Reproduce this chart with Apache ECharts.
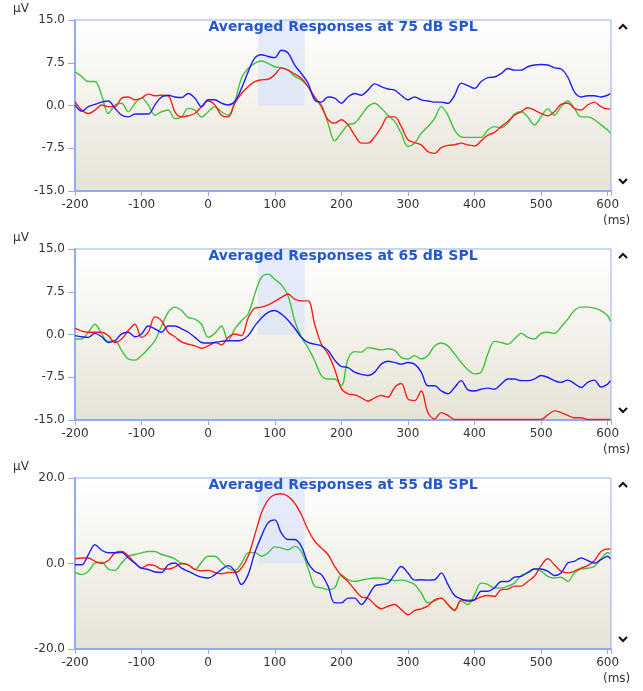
<!DOCTYPE html>
<html>
<head>
<meta charset="utf-8">
<title>Averaged Responses</title>
<script src="https://cdn.jsdelivr.net/npm/echarts@6/dist/echarts.min.js"></script>
<style>
  html, body { margin: 0; padding: 0; background: #ffffff; }
  #chart { width: 643px; height: 691px; }
</style>
</head>
<body>
<div id="chart"></div>
<script>
// Sample times (ms) shared by every trace
const timeMs = [
  -200, -190, -180, -170, -160, -150, -140, -130, -120, -110,
  -100, -90, -80, -70, -60, -50, -40, -30, -20, -10,
  0, 10, 20, 30, 40, 50, 60, 70, 80, 90,
  100, 110, 120, 130, 140, 150, 160, 170, 180, 190,
  200, 210, 220, 230, 240, 250, 260, 270, 280, 290,
  300, 310, 320, 330, 340, 350, 360, 370, 380, 390,
  400, 410, 420, 430, 440, 450, 460, 470, 480, 490,
  500, 510, 520, 530, 540, 550, 560, 570, 580, 590,
  600, 604
];

// Stimulus levels, one panel each
const levelsDb = ['75', '65', '55'];
const yLimits = [[-15, 15], [-15, 15], [-20, 20]];
const yStep = [7.5, 7.5, 20];
const xTickValues = [-200, -100, 0, 100, 200, 300, 400, 500, 600];
const responseWindowMs = [75, 145];

// 75 dB SPL (µV)
const blue75 = [
  0.1, -1.0, -0.2, 0.2, 0.6, 0.8, -0.5, -1.7, -2.0, -1.5,
  -1.5, -1.5, 0.1, 1.5, 1.8, 1.5, 1.4, 2.1, 1.3, -0.2,
  1.0, 1.0, 0.4, 0.1, 0.7, 3.0, 5.9, 8.3, 8.9, 8.6,
  8.4, 9.7, 9.2, 7.1, 5.6, 3.9, 1.0, 0.6, 1.5, 1.3,
  0.4, 1.5, 2.1, 1.8, 2.7, 3.8, 3.3, 2.9, 2.7, 1.8,
  1.0, 1.5, 1.0, 0.8, 0.6, 0.6, 0.4, 1.8, 3.9, 3.5,
  3.0, 4.2, 4.9, 5.0, 5.6, 6.5, 6.2, 6.2, 6.8, 7.1,
  7.2, 7.1, 6.6, 6.4, 5.0, 2.4, 1.5, 1.7, 1.7, 1.5,
  1.8, 2.1
];
const red75 = [
  0.7, -0.8, -1.4, -0.8, 0.1, -0.2, -0.2, 1.3, 1.5, 1.0,
  1.3, 2.0, 1.7, 1.8, 1.7, -1.1, -2.0, -1.8, -1.4, -0.2,
  0.8, 0.1, -1.7, -2.0, 0.4, 2.1, 3.3, 4.2, 4.5, 4.6,
  5.4, 6.6, 6.2, 5.5, 4.8, 3.3, 1.5, -0.2, -2.5, -3.1,
  -2.5, -3.4, -5.2, -6.6, -6.6, -5.5, -3.8, -2.0, -2.0, -3.7,
  -6.0, -6.5, -6.9, -8.1, -8.4, -7.4, -7.0, -6.9, -6.6, -6.9,
  -7.1, -6.2, -5.2, -4.7, -3.7, -2.8, -1.7, -1.1, -0.4, -0.8,
  -1.4, -1.8, -1.1, 0.2, 0.4, -0.5, -0.8, 0.1, 0.6, -0.2,
  -0.6, -0.6
];
const green75 = [
  5.9, 5.1, 4.2, 4.2, 1.8, -1.4, 0.1, 0.4, -1.1, 0.4,
  1.3, 0.1, -1.7, -1.1, -0.8, -2.3, -2.0, -0.5, -0.8, -2.0,
  -1.1, -0.2, -1.1, -1.7, 0.7, 4.8, 6.5, 7.4, 7.8, 7.4,
  6.8, 6.6, 6.2, 5.1, 4.5, 3.3, 1.3, 0.1, -3.1, -6.2,
  -4.8, -3.4, -3.1, -1.7, -0.2, 0.4, -0.5, -1.7, -2.8, -4.9,
  -7.2, -6.6, -4.9, -3.7, -2.3, -0.2, -1.7, -4.3, -5.5, -5.6,
  -5.6, -5.6, -4.3, -3.7, -3.9, -3.1, -1.5, -1.1, -2.0, -3.4,
  -2.0, -0.6, -1.7, -0.2, 0.8, -0.5, -2.0, -2.0, -2.5, -3.4,
  -4.3, -4.9
];

// 65 dB SPL (µV)
const blue65 = [
  -0.2, -0.4, -0.5, 0.2, -0.4, -1.4, -1.1, 0.1, 0.4, -0.4,
  0.1, 1.5, 1.0, 0.4, 1.5, 1.5, 1.0, 0.4, -0.5, -1.4,
  -1.5, -1.4, -1.2, -1.1, -1.1, -1.0, -0.2, 1.5, 2.9, 3.9,
  4.2, 3.6, 2.5, 1.1, -0.5, -1.4, -1.7, -2.0, -2.8, -4.5,
  -5.6, -5.8, -6.6, -7.0, -7.2, -6.6, -5.2, -4.7, -4.9, -5.2,
  -4.9, -5.2, -6.6, -9.0, -9.0, -9.9, -10.4, -9.3, -8.1, -9.7,
  -9.9, -9.6, -9.4, -9.6, -8.7, -7.8, -7.8, -8.1, -8.1, -7.8,
  -7.2, -7.5, -8.1, -8.4, -8.0, -8.6, -9.3, -8.4, -8.0, -9.2,
  -8.7, -8.1
];
const red65 = [
  1.1, 0.6, 0.4, 0.4, 0.4, -0.2, -1.4, -0.8, 0.7, 1.8,
  -0.5, 0.4, 3.1, 2.4, 0.4, -0.4, -1.3, -1.7, -2.0, -2.4,
  -2.0, -1.4, -1.8, -0.5, 0.1, -0.2, 2.9, 4.6, 4.8, 5.2,
  5.8, 6.5, 7.1, 6.2, 5.9, 5.9, 1.8, -1.7, -3.4, -6.1,
  -9.5, -10.4, -10.6, -11.1, -11.7, -11.1, -10.7, -11.0, -9.3, -8.6,
  -11.3, -11.6, -9.9, -13.7, -14.8, -13.7, -14.2, -14.9, -14.9, -14.9,
  -14.9, -14.9, -14.9, -14.9, -14.9, -14.9, -14.9, -14.9, -14.9, -14.9,
  -14.9, -14.1, -13.4, -13.7, -14.2, -14.6, -14.6, -14.9, -14.9, -14.9,
  -14.9, -14.9
];
const green65 = [
  -0.8, -0.8, 0.4, 1.8, 0.1, -1.2, -1.1, -2.8, -4.3, -4.5,
  -3.7, -2.5, -1.1, 1.5, 3.9, 4.8, 4.2, 3.0, 2.7, 1.8,
  -0.5, 0.2, 1.5, -1.1, 1.0, 2.4, 3.6, 7.1, 10.0, 10.6,
  9.7, 8.7, 6.8, 2.4, -0.5, -2.3, -4.6, -7.2, -7.8, -7.8,
  -9.0, -4.3, -3.0, -3.1, -2.3, -2.5, -2.7, -2.5, -2.8, -4.0,
  -4.3, -3.7, -4.3, -3.7, -2.0, -1.5, -2.0, -3.4, -4.9, -6.2,
  -6.9, -6.6, -3.4, -1.2, -1.4, -1.7, -0.8, 0.2, -0.5, -0.8,
  0.2, 0.4, 0.2, 1.3, 2.7, 4.2, 4.8, 4.8, 4.6, 4.2,
  3.3, 2.3
];

// 55 dB SPL (µV)
const blue55 = [
  -0.3, -0.3, 2.1, 4.4, 3.1, 2.5, 2.5, 2.6, 1.3, 0.1,
  -1.1, -1.4, -2.0, -2.1, -0.3, 0.1, -1.1, -1.8, -2.6, -3.2,
  -3.4, -2.6, -1.4, -0.5, -1.8, -4.9, -2.6, 2.5, 6.4, 9.5,
  10.2, 7.1, 5.6, 5.6, 4.0, 0.1, -1.8, -2.6, -5.3, -9.2,
  -9.2, -8.1, -8.1, -9.6, -7.7, -5.3, -4.9, -4.6, -2.6, -0.7,
  -2.2, -3.9, -3.8, -3.9, -3.8, -2.2, -4.9, -7.5, -8.3, -8.8,
  -8.5, -6.5, -6.5, -5.7, -4.2, -4.2, -3.2, -3.0, -2.1, -1.3,
  -1.3, -1.8, -2.8, -2.2, 0.1, 0.5, 1.3, 0.7, 0.1, 0.9,
  1.7, 1.1
];
const red55 = [
  1.1, 1.3, 1.3, 0.5, 0.0, 0.7, 2.5, 2.8, 1.8, 0.1,
  -1.1, -0.3, -0.5, -1.3, -1.3, -0.8, 0.0, -0.3, -1.4, -1.7,
  -1.6, -2.1, -2.4, -2.1, -2.1, -1.1, 1.7, 6.7, 11.8, 14.9,
  16.1, 16.3, 15.7, 14.1, 11.4, 7.9, 5.2, 3.6, 2.1, -0.7,
  -2.8, -4.2, -6.1, -7.8, -8.1, -9.6, -10.6, -10.0, -9.6, -10.8,
  -12.0, -11.0, -10.6, -9.9, -8.5, -8.1, -9.6, -11.0, -8.5, -8.6,
  -8.5, -7.8, -7.5, -7.7, -6.1, -6.0, -5.3, -5.3, -4.2, -3.0,
  -0.5, 1.1, -0.3, -1.8, -2.2, -1.8, -1.1, -0.5, 0.7, 2.8,
  3.4, 3.4
];
const green55 = [
  -2.1, -2.6, -1.8, 0.1, 0.3, -1.3, -1.6, 0.1, 1.7, 2.1,
  2.5, 2.8, 2.8, 2.1, 1.7, 1.1, 0.0, -0.3, -1.4, 0.3,
  1.7, 1.7, 0.3, -1.1, -1.6, 0.0, 2.5, 2.6, 1.7, 2.5,
  3.9, 3.6, 3.2, 4.0, 2.8, -1.1, -5.3, -5.7, -6.1, -5.7,
  -2.6, -3.8, -4.2, -3.9, -3.6, -3.4, -3.4, -3.8, -4.0, -3.9,
  -4.2, -4.9, -6.9, -9.2, -8.8, -8.1, -9.6, -10.8, -8.8, -9.6,
  -7.3, -4.6, -4.9, -5.7, -5.7, -5.3, -4.6, -2.8, -2.2, -1.3,
  -1.8, -3.0, -3.4, -3.2, -4.2, -2.2, -1.3, -1.1, -0.7, 1.1,
  2.5, 2.3
];

const traceSets = [
  [green75, red75, blue75],
  [green65, red65, blue65],
  [green55, red55, blue55]
];
const traceColors = ['#3fc33f', '#ff1e1e', '#1e1eff'];

// Layout of the three stacked plots
const gridLeft = 75;
const gridWidth = 536;
const gridHeight = 171;
const gridTops = [20, 249, 478];
const axisBlue = '#93abec';
const labelFont = 'DejaVu Sans, Verdana, sans-serif';

const chart = echarts.init(document.getElementById('chart'), null, { renderer: 'canvas' });

const grids = [], xAxes = [], yAxes = [], series = [], titles = [], graphics = [];

levelsDb.forEach((level, i) => {
  const top = gridTops[i];
  const [yMin, yMax] = yLimits[i];

  grids.push({
    left: gridLeft, top: top, width: gridWidth, height: gridHeight,
    show: true,
    borderColor: axisBlue,
    borderWidth: 1,
    backgroundColor: new echarts.graphic.LinearGradient(0, 0, 0, 1, [
      { offset: 0, color: '#ffffff' },
      { offset: 0.5, color: '#f3f1ea' },
      { offset: 1, color: '#e6e2d6' }
    ])
  });

  xAxes.push({
    type: 'value', gridIndex: i,
    min: -200, max: 605, interval: 100,
    axisLine: { show: true, onZero: false, lineStyle: { color: axisBlue, width: 2 } },
    axisTick: { show: true, length: 5, lineStyle: { color: axisBlue, width: 1 } },
    splitLine: { show: false },
    axisLabel: {
      margin: 8, color: '#333333', fontSize: 12, fontFamily: labelFont,
      formatter: v => (xTickValues.indexOf(v) >= 0 ? String(v) : '')
    }
  });

  yAxes.push({
    type: 'value', gridIndex: i,
    min: yMin, max: yMax, interval: yStep[i],
    axisLine: { show: true, onZero: false, lineStyle: { color: axisBlue, width: 2 } },
    axisTick: { show: true, length: 7, lineStyle: { color: axisBlue, width: 1 } },
    splitLine: { show: false },
    axisLabel: {
      margin: 10, color: '#333333', fontSize: 12, fontFamily: labelFont,
      formatter: v => v.toFixed(1)
    }
  });

  traceSets[i].forEach((values, k) => {
    const s = {
      type: 'line', xAxisIndex: i, yAxisIndex: i,
      data: timeMs.map((t, n) => [t, values[n]]),
      showSymbol: false, smooth: 0.35,
      lineStyle: { color: traceColors[k], width: 1.4 },
      itemStyle: { color: traceColors[k] },
      silent: true,
      clip: true
    };
    if (k === 0) {
      s.markArea = {
        silent: true,
        itemStyle: { color: 'rgba(205, 220, 252, 0.5)' },
        data: [[
          { xAxis: responseWindowMs[0], yAxis: 0 },
          { xAxis: responseWindowMs[1], yAxis: yMax }
        ]]
      };
    }
    series.push(s);
  });

  titles.push({
    text: 'Averaged Responses at ' + level + ' dB SPL',
    left: gridLeft + gridWidth / 2, top: top,
    textAlign: 'center', padding: 0,
    textStyle: { fontSize: 14, fontWeight: 'bold', color: '#2458cc', fontFamily: labelFont }
  });

  // unit captions
  graphics.push({
    type: 'text', left: 13, top: top - 17,
    style: { text: 'µV', fill: '#333333', font: '12px ' + labelFont }
  });
  graphics.push({
    type: 'text', left: 603, top: top + gridHeight + 24,
    style: { text: '(ms)', fill: '#333333', font: '12px ' + labelFont }
  });

  // scroll chevrons at the right of each plot
  graphics.push({
    type: 'polyline',
    shape: { points: [[619, top + 9], [623, top + 5], [627, top + 9]] },
    style: { stroke: '#111111', lineWidth: 2, fill: null }
  });
  graphics.push({
    type: 'polyline',
    shape: { points: [[619, top + gridHeight - 12], [623, top + gridHeight - 8], [627, top + gridHeight - 12]] },
    style: { stroke: '#111111', lineWidth: 2, fill: null }
  });
});

chart.setOption({
  animation: false,
  backgroundColor: '#ffffff',
  title: titles,
  grid: grids,
  xAxis: xAxes,
  yAxis: yAxes,
  series: series,
  graphic: graphics
});
</script>
</body>
</html>
